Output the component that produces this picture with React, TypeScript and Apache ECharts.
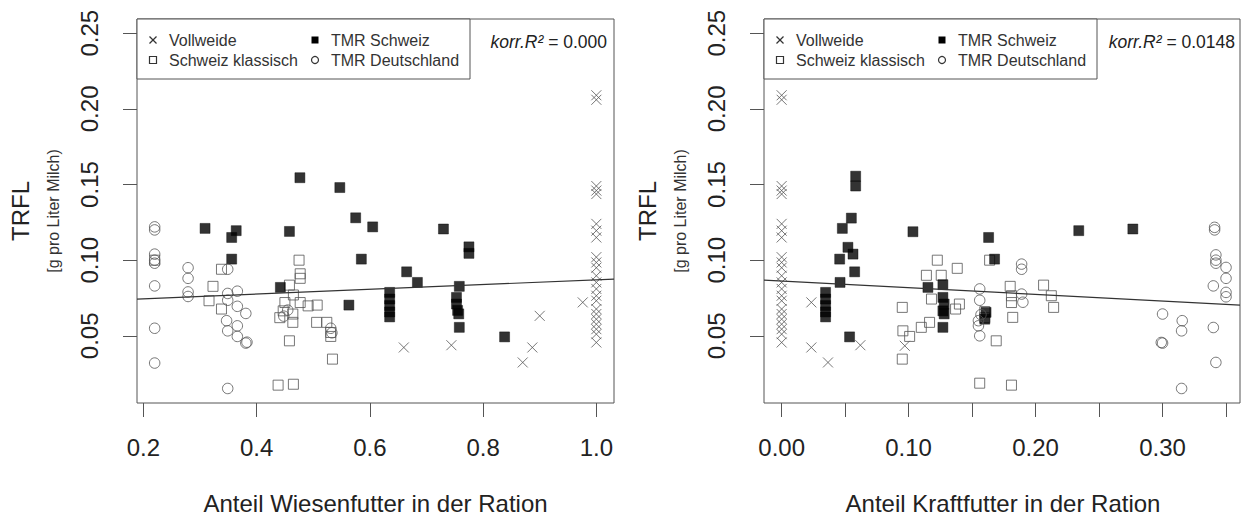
import React, { useEffect, useRef } from "react";
import * as echarts from "echarts";

// ---------- tick values ----------
const Y_TICKS = [0.05, 0.1, 0.15, 0.2, 0.25];
const X1_TICKS = [0.2, 0.4, 0.6, 0.8, 1.0];
const X2_TICKS = [0, 0.05, 0.1, 0.15, 0.2, 0.25, 0.3, 0.35];
const X2_LABELS = [0, 0.1, 0.2, 0.3];

const LEGEND_NAMES = ["Vollweide", "Schweiz klassisch", "TMR Schweiz", "TMR Deutschland"];
const X1_TITLE = "Anteil Wiesenfutter in der Ration";
const X2_TITLE = "Anteil Kraftfutter in der Ration";
const Y_TITLE = "TRFL";
const Y_SUB = "[g pro Liter Milch)";
const R2_LEFT = "0.000";
const R2_RIGHT = "0.0148";

// ---------- left panel: Anteil Wiesenfutter ----------
const W_VOLLWEIDE: [number, number][] = [
  [1.0, 0.209], [1.0, 0.206], [1.0, 0.149], [1.0, 0.146], [1.0, 0.1437], [1.0, 0.124],
  [1.0, 0.1195], [1.0, 0.115], [1.0, 0.102], [1.0, 0.0985], [1.0, 0.095], [1.0, 0.0897],
  [1.0, 0.0853], [1.0, 0.081], [1.0, 0.0765], [1.0, 0.0732], [1.0, 0.0677], [1.0, 0.0644],
  [1.0, 0.061], [1.0, 0.0577], [1.0, 0.0544], [1.0, 0.0511], [1.0, 0.0456],
  [0.66, 0.0423], [0.744, 0.0438], [0.87, 0.0324], [0.887, 0.0423], [0.9, 0.0632], [0.976, 0.0721],
];
const W_KLASSISCH: [number, number][] = [
  [0.22, 0.1], [0.323, 0.0827], [0.316, 0.0732], [0.338, 0.094], [0.338, 0.0677],
  [0.475, 0.1], [0.477, 0.091], [0.477, 0.088], [0.458, 0.0835], [0.465, 0.077], [0.45, 0.072],
  [0.477, 0.072], [0.447, 0.0665], [0.441, 0.062], [0.464, 0.0644], [0.464, 0.0589], [0.491, 0.0698],
  [0.507, 0.0703], [0.506, 0.0589], [0.524, 0.0589], [0.531, 0.0522], [0.531, 0.0496],
  [0.534, 0.0346], [0.458, 0.0467], [0.438, 0.0174], [0.465, 0.018],
];
const W_TMR_CH: [number, number][] = [
  [0.309, 0.121], [0.364, 0.1195], [0.356, 0.115], [0.356, 0.1007], [0.458, 0.119],
  [0.4765, 0.1545], [0.547, 0.148], [0.575, 0.128], [0.605, 0.122], [0.585, 0.1007],
  [0.442, 0.082], [0.563, 0.0703], [0.665, 0.0923], [0.684, 0.0853],
  [0.635, 0.0787], [0.635, 0.0743], [0.635, 0.07], [0.635, 0.0658], [0.635, 0.0625],
  [0.73, 0.1206], [0.775, 0.1088], [0.775, 0.1045], [0.758, 0.0827],
  [0.753, 0.0754], [0.753, 0.071], [0.755, 0.0668], [0.757, 0.0645], [0.758, 0.0556],
  [0.838, 0.0493],
];
const W_TMR_DE: [number, number][] = [
  [0.22, 0.122], [0.22, 0.12], [0.22, 0.104], [0.22, 0.1], [0.22, 0.098], [0.22, 0.083],
  [0.22, 0.055], [0.22, 0.032],
  [0.279, 0.095], [0.279, 0.088], [0.279, 0.079], [0.279, 0.076],
  [0.349, 0.094], [0.349, 0.078], [0.366, 0.0795], [0.349, 0.0735], [0.366, 0.0695],
  [0.381, 0.0648], [0.347, 0.06], [0.366, 0.0566], [0.349, 0.0533], [0.366, 0.0496],
  [0.381, 0.0452], [0.383, 0.0458], [0.349, 0.0152],
  [0.455, 0.067], [0.448, 0.063], [0.531, 0.055], [0.533, 0.052],
];
const W_REG: [number, number][] = [[0.1888, 0.0743], [1.0312, 0.0875]];

// ---------- right panel: Anteil Kraftfutter ----------
const K_VOLLWEIDE: [number, number][] = [
  [0, 0.209], [0, 0.206], [0, 0.149], [0, 0.146], [0, 0.1437], [0, 0.124],
  [0, 0.1195], [0, 0.115], [0, 0.102], [0, 0.0985], [0, 0.095], [0, 0.0897],
  [0, 0.0853], [0, 0.081], [0, 0.0765], [0, 0.0732], [0, 0.0677], [0, 0.0644],
  [0, 0.061], [0, 0.0577], [0, 0.0544], [0, 0.0511], [0, 0.0456],
  [0.0234, 0.0721], [0.0234, 0.0423], [0.0365, 0.0324], [0.062, 0.0438], [0.097, 0.0434],
];
const K_KLASSISCH: [number, number][] = [
  [0.1226, 0.1], [0.1383, 0.0946], [0.114, 0.09], [0.1257, 0.09], [0.118, 0.0743],
  [0.095, 0.0688], [0.137, 0.0677], [0.14, 0.071], [0.0955, 0.0533], [0.1008, 0.0496],
  [0.11, 0.0556], [0.1165, 0.0589], [0.095, 0.0346], [0.156, 0.0187], [0.16, 0.066],
  [0.1638, 0.1], [0.18, 0.0827], [0.181, 0.0765], [0.181, 0.072], [0.182, 0.0622],
  [0.2063, 0.0835], [0.2124, 0.0765], [0.2142, 0.0688], [0.169, 0.0467], [0.181, 0.0174],
  [0.16, 0.062],
];
const K_TMR_CH: [number, number][] = [
  [0.0583, 0.1555], [0.0583, 0.149], [0.0549, 0.1278], [0.0478, 0.121], [0.1034, 0.1188],
  [0.163, 0.115], [0.1677, 0.1007], [0.234, 0.1195], [0.2766, 0.1206],
  [0.0522, 0.1085], [0.0562, 0.104], [0.0457, 0.1007], [0.0575, 0.0923], [0.046, 0.0853],
  [0.0346, 0.0787], [0.0346, 0.0743], [0.0346, 0.07], [0.0346, 0.0658], [0.0346, 0.0625],
  [0.0535, 0.0493], [0.1152, 0.082],
  [0.127, 0.0838], [0.127, 0.0754], [0.128, 0.071], [0.127, 0.0665], [0.128, 0.0645],
  [0.127, 0.0556], [0.161, 0.0655], [0.16, 0.061],
];
const K_TMR_DE: [number, number][] = [
  [0.156, 0.081], [0.156, 0.0735], [0.155, 0.06], [0.155, 0.0566], [0.156, 0.05], [0.157, 0.064],
  [0.189, 0.0974], [0.189, 0.094], [0.189, 0.0776], [0.19, 0.0722],
  [0.3, 0.0644], [0.299, 0.0456], [0.3, 0.0452], [0.3155, 0.06], [0.315, 0.0533], [0.315, 0.0152],
  [0.341, 0.1217], [0.341, 0.12], [0.342, 0.1035], [0.342, 0.1], [0.342, 0.098], [0.34, 0.083],
  [0.34, 0.0555], [0.342, 0.0324],
  [0.35, 0.0952], [0.35, 0.088], [0.35, 0.0787], [0.35, 0.0758],
];
const K_REG: [number, number][] = [[-0.0139, 0.0868], [0.361, 0.0703]];

const FONT = "'Liberation Sans', Arial, Helvetica, sans-serif";
const CROSS = "path://M0,0L10,10M10,0L0,10";
const GRAY = "#555";

function scatterSeries(name: string, data: [number, number][], idx: number, kind: string) {
  const base: any = {
    name,
    type: "scatter",
    xAxisIndex: idx,
    yAxisIndex: idx,
    data,
    z: 3,
  };
  if (kind === "cross") {
    base.symbol = CROSS;
    base.symbolSize = 10;
    base.itemStyle = { color: "rgba(0,0,0,0)", borderColor: GRAY, borderWidth: 1 };
  } else if (kind === "osq") {
    base.symbol = "rect";
    base.symbolSize = 10;
    base.itemStyle = { color: "rgba(255,255,255,0)", borderColor: GRAY, borderWidth: 1 };
  } else if (kind === "fsq") {
    base.symbol = "rect";
    base.symbolSize = 10;
    base.itemStyle = { color: "#000", borderColor: "#000", borderWidth: 0.5 };
  } else {
    base.symbol = "circle";
    base.symbolSize = 10.5;
    base.itemStyle = { color: "rgba(255,255,255,0)", borderColor: GRAY, borderWidth: 1 };
  }
  return base;
}

function lineSeries(data: [number, number][], idx: number) {
  return {
    type: "line",
    xAxisIndex: idx,
    yAxisIndex: idx,
    data,
    showSymbol: false,
    symbol: "none",
    lineStyle: { color: "#333", width: 1.2 },
    z: 4,
  };
}

function xAxis(idx: number, min: number, max: number, ticks: number[], labels: number[], digits: number) {
  return {
    type: "value",
    gridIndex: idx,
    min,
    max,
    axisLine: { show: false, onZero: false },
    splitLine: { show: false },
    axisTick: {
      show: true,
      inside: false,
      length: 14,
      customValues: ticks,
      lineStyle: { color: GRAY, width: 1 },
    },
    axisLabel: {
      show: true,
      customValues: labels,
      formatter: (v: number) => v.toFixed(digits),
      fontSize: 24,
      fontFamily: FONT,
      color: "#222",
      margin: 32,
    },
  };
}

function yAxis(idx: number) {
  return {
    type: "value",
    gridIndex: idx,
    min: 0.0056,
    max: 0.2594,
    axisLine: { show: false, onZero: false },
    splitLine: { show: false },
    axisTick: {
      show: true,
      inside: false,
      length: 14,
      customValues: Y_TICKS,
      lineStyle: { color: GRAY, width: 1 },
    },
    axisLabel: {
      show: true,
      customValues: Y_TICKS,
      rotate: 90,
      formatter: (v: number) => v.toFixed(2),
      fontSize: 24,
      fontFamily: FONT,
      color: "#222",
      margin: 36,
    },
  };
}

function legendGraphic(left: number, top: number, width: number, col2: number) {
  const items: any[] = [];
  items.push({
    type: "rect",
    shape: { x: left, y: top, width, height: 60 },
    style: { fill: "#fff", stroke: GRAY, lineWidth: 1 },
    z: 10,
  });
  const r1 = top + 21;
  const r2 = top + 41;
  const s1 = left + 16;
  const t1 = left + 32;
  const s2 = col2;
  const t2 = col2 + 16;
  // cross
  items.push({ type: "line", shape: { x1: s1 - 3.5, y1: r1 - 3.5, x2: s1 + 3.5, y2: r1 + 3.5 }, style: { stroke: "#333", lineWidth: 1.2 }, z: 11 });
  items.push({ type: "line", shape: { x1: s1 + 3.5, y1: r1 - 3.5, x2: s1 - 3.5, y2: r1 + 3.5 }, style: { stroke: "#333", lineWidth: 1.2 }, z: 11 });
  // open square
  items.push({ type: "rect", shape: { x: s1 - 3.5, y: r2 - 3.5, width: 7, height: 7 }, style: { fill: "none", stroke: "#333", lineWidth: 1.2 }, z: 11 });
  // filled square
  items.push({ type: "rect", shape: { x: s2 - 3.5, y: r1 - 3.5, width: 7, height: 7 }, style: { fill: "#000" }, z: 11 });
  // open circle
  items.push({ type: "circle", shape: { cx: s2, cy: r2, r: 3.5 }, style: { fill: "none", stroke: "#333", lineWidth: 1.2 }, z: 11 });
  const ts = { fontSize: 16, fontFamily: FONT, fill: "#333", textVerticalAlign: "middle", textAlign: "left" };
  items.push({ type: "text", x: t1, y: r1, style: { ...ts, text: LEGEND_NAMES[0] }, z: 11 });
  items.push({ type: "text", x: t1, y: r2, style: { ...ts, text: LEGEND_NAMES[1] }, z: 11 });
  items.push({ type: "text", x: t2, y: r1, style: { ...ts, text: LEGEND_NAMES[2] }, z: 11 });
  items.push({ type: "text", x: t2, y: r2, style: { ...ts, text: LEGEND_NAMES[3] }, z: 11 });
  return items;
}

function r2Text(right: number, y: number, val: string) {
  return {
    type: "text",
    x: right,
    y,
    z: 11,
    style: {
      text: "{i|korr.R²} {n|= " + val + "}",
      textAlign: "right",
      textVerticalAlign: "middle",
      rich: {
        i: { fontSize: 17.5, fontStyle: "italic", fontFamily: FONT, fill: "#222" },
        n: { fontSize: 17.5, fontFamily: FONT, fill: "#222" },
      },
      fontSize: 17.5,
      fontFamily: FONT,
    },
  };
}

function yTitles(xTitle: number, xSub: number, yc: number) {
  return [
    {
      type: "text",
      x: xTitle,
      y: yc,
      rotation: Math.PI / 2,
      style: { text: Y_TITLE, fontSize: 24, fontFamily: FONT, fill: "#222", textAlign: "center", textVerticalAlign: "middle" },
    },
    {
      type: "text",
      x: xSub,
      y: yc,
      rotation: Math.PI / 2,
      style: { text: Y_SUB, fontSize: 16, fontFamily: FONT, fill: "#333", textAlign: "center", textVerticalAlign: "middle" },
    },
  ];
}

export default function App() {
  const ref = useRef<HTMLDivElement>(null);
  useEffect(() => {
    if (!ref.current) return;
    const chart = echarts.init(ref.current, undefined, { renderer: "svg" });
    const G1 = { left: 137, top: 19, width: 477, height: 384 };
    const G2 = { left: 764, top: 19, width: 476, height: 384 };
    const option: any = {
      animation: false,
      backgroundColor: "#fff",
      grid: [
        { ...G1, show: true, borderColor: GRAY, borderWidth: 1, backgroundColor: "transparent", containLabel: false },
        { ...G2, show: true, borderColor: GRAY, borderWidth: 1, backgroundColor: "transparent", containLabel: false },
      ],
      xAxis: [
        xAxis(0, 0.1888, 1.0312, X1_TICKS, X1_TICKS, 1),
        xAxis(1, -0.0139, 0.361, X2_TICKS, X2_LABELS, 2),
      ],
      yAxis: [yAxis(0), yAxis(1)],
      series: [
        scatterSeries(LEGEND_NAMES[0], W_VOLLWEIDE, 0, "cross"),
        scatterSeries(LEGEND_NAMES[1], W_KLASSISCH, 0, "osq"),
        scatterSeries(LEGEND_NAMES[2], W_TMR_CH, 0, "fsq"),
        scatterSeries(LEGEND_NAMES[3], W_TMR_DE, 0, "circ"),
        lineSeries(W_REG, 0),
        scatterSeries(LEGEND_NAMES[0], K_VOLLWEIDE, 1, "cross"),
        scatterSeries(LEGEND_NAMES[1], K_KLASSISCH, 1, "osq"),
        scatterSeries(LEGEND_NAMES[2], K_TMR_CH, 1, "fsq"),
        scatterSeries(LEGEND_NAMES[3], K_TMR_DE, 1, "circ"),
        lineSeries(K_REG, 1),
      ],
      graphic: [
        ...legendGraphic(137, 19, 333, 315),
        ...legendGraphic(764, 19, 333, 942),
        r2Text(607, 41.5, R2_LEFT),
        r2Text(1235, 41.5, R2_RIGHT),
        ...yTitles(20, 53, 211),
        ...yTitles(647, 680, 211),
        {
          type: "text",
          x: 375.5,
          y: 503,
          style: { text: X1_TITLE, fontSize: 24, fontFamily: FONT, fill: "#222", textAlign: "center", textVerticalAlign: "middle" },
        },
        {
          type: "text",
          x: 1003,
          y: 503,
          style: { text: X2_TITLE, fontSize: 24, fontFamily: FONT, fill: "#222", textAlign: "center", textVerticalAlign: "middle" },
        },
      ],
    };
    chart.setOption(option);
    return () => chart.dispose();
  }, []);
  return (
    <div
      ref={ref}
      style={{ position: "fixed", left: 0, top: 0, width: 1241, height: 518, background: "#fff" }}
    />
  );
}
